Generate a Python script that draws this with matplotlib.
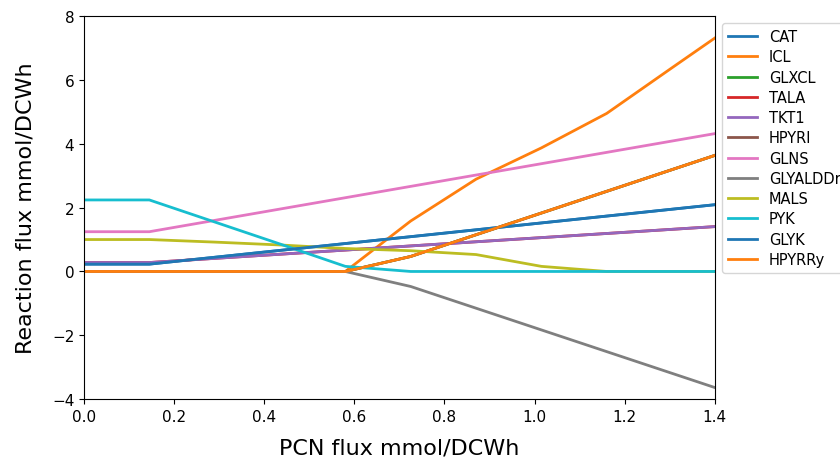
import numpy as np
import matplotlib
matplotlib.use("Agg")
import matplotlib.pyplot as plt

# PCN flux values (x) and reaction fluxes
pcn = [0.0, 0.145, 0.29, 0.435, 0.58, 0.725, 0.87, 1.015, 1.16, 1.305, 1.45]

cat = [0.23, 0.23, 0.445, 0.66, 0.875, 1.09, 1.305, 1.52, 1.735, 1.95, 2.165]
icl = [0.0, 0.0, 0.0, 0.0, 0.0, 1.58, 2.89, 3.87, 4.95, 6.38, 7.8]
glxcl = [0.0, 0.0, 0.0, 0.0, 0.0, 0.47, 1.15, 1.83, 2.51, 3.19, 3.87]
tala = [0.28, 0.28, 0.41, 0.54, 0.67, 0.80, 0.93, 1.06, 1.19, 1.32, 1.45]
tkt1 = [0.28, 0.28, 0.41, 0.54, 0.67, 0.80, 0.93, 1.06, 1.19, 1.32, 1.45]
hpyri = [0.0, 0.0, 0.0, 0.0, 0.0, 0.47, 1.15, 1.83, 2.51, 3.19, 3.87]
glns = [1.245, 1.245, 1.60, 1.955, 2.31, 2.665, 3.02, 3.375, 3.73, 4.085, 4.44]
glyalddr = [0.0, 0.0, 0.0, 0.0, 0.0, -0.47, -1.15, -1.83, -2.51, -3.19, -3.87]
mals = [1.0, 1.0, 0.92, 0.83, 0.72, 0.65, 0.53, 0.16, 0.0, 0.0, 0.0]
pyk = [2.24, 2.24, 1.55, 0.86, 0.16, 0.0, 0.0, 0.0, 0.0, 0.0, 0.0]
glyk = [0.23, 0.23, 0.445, 0.66, 0.875, 1.09, 1.305, 1.52, 1.735, 1.95, 2.165]
hpyrry = [0.0, 0.0, 0.0, 0.0, 0.0, 0.47, 1.15, 1.83, 2.51, 3.19, 3.87]

reactions = ["CAT", "ICL", "GLXCL", "TALA", "TKT1", "HPYRI", "GLNS",
             "GLYALDDr", "MALS", "PYK", "GLYK", "HPYRRy"]
fluxes = [cat, icl, glxcl, tala, tkt1, hpyri, glns,
          glyalddr, mals, pyk, glyk, hpyrry]

fig = plt.figure(figsize=(8.4, 4.6), dpi=100)
ax = fig.add_axes([0.1, 0.13, 0.751, 0.833])

for name, vals in zip(reactions, fluxes):
    ax.plot(pcn, vals, label=name, linewidth=2)

ax.set_xlim(0, 1.4)
ax.set_ylim(-4, 8)
ax.set_xlabel("PCN flux mmol/DCWh", fontsize=16, labelpad=10)
ax.set_ylabel("Reaction flux mmol/DCWh", fontsize=16, labelpad=12)
ax.tick_params(labelsize=11)
ax.legend(loc="upper left", bbox_to_anchor=(1.0, 1.0), fontsize=10.5,
          labelspacing=0.36)

fig.savefig("out.png", dpi=100)
